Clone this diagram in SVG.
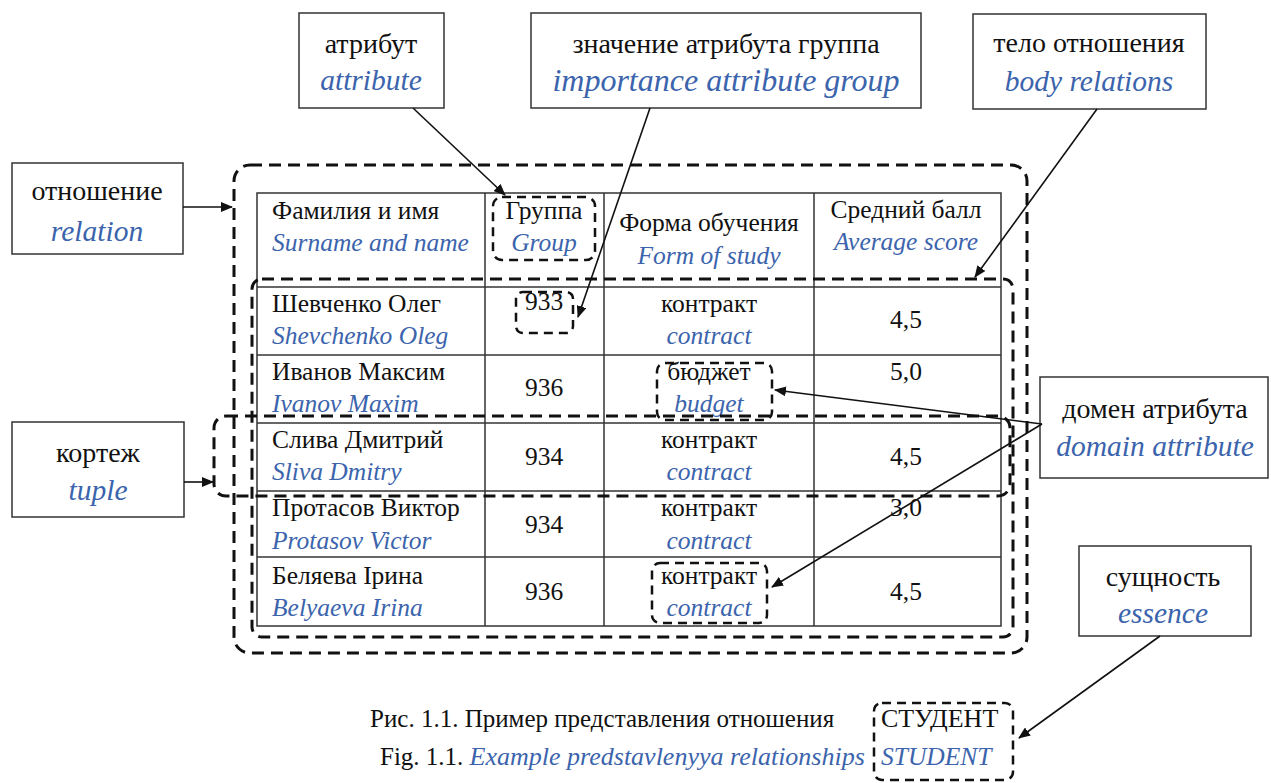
<svg xmlns="http://www.w3.org/2000/svg" width="1271" height="783" viewBox="0 0 1271 783">
<style>
.ru{font-family:"Liberation Serif","Times New Roman",serif;font-size:25.5px;fill:#111}
.en{font-family:"Liberation Serif","Times New Roman",serif;font-style:italic;font-size:25.5px;fill:#3B64AD}
.cru{font-family:"Liberation Serif","Times New Roman",serif;font-size:28px;fill:#111;text-anchor:middle}
.cen{font-family:"Liberation Serif","Times New Roman",serif;font-style:italic;font-size:29.5px;fill:#3B64AD;text-anchor:middle}
.cap{font-family:"Liberation Serif","Times New Roman",serif;font-size:25px;fill:#111}
.c{text-anchor:middle}
.box{fill:#fff;stroke:#333;stroke-width:1.5}
.tbl{fill:none;stroke:#333;stroke-width:1.5}
.dash{fill:none;stroke:#111;stroke-width:3;stroke-dasharray:12 7}
.sdash{fill:none;stroke:#111;stroke-width:2.5;stroke-dasharray:9 6}
.arr{stroke:#111;stroke-width:1.6;fill:none;marker-end:url(#ah)}
</style>
<defs>
<marker id="ah" viewBox="0 0 12 10" refX="11" refY="5" markerWidth="12" markerHeight="10" markerUnits="userSpaceOnUse" orient="auto">
<path d="M0,0 L12,5 L0,10 z" fill="#111"/>
</marker>
</defs>
<rect width="1271" height="783" fill="#fff"/>

<g id="table">
<rect class="tbl" x="257" y="193" width="744" height="433"/>
<line class="tbl" x1="485" y1="193" x2="485" y2="626"/>
<line class="tbl" x1="604" y1="193" x2="604" y2="626"/>
<line class="tbl" x1="814" y1="193" x2="814" y2="626"/>
<line class="tbl" x1="257" y1="287" x2="1001" y2="287"/>
<line class="tbl" x1="257" y1="355" x2="1001" y2="355"/>
<line class="tbl" x1="257" y1="423" x2="1001" y2="423"/>
<line class="tbl" x1="257" y1="491" x2="1001" y2="491"/>
<line class="tbl" x1="257" y1="557" x2="1001" y2="557"/>
<text class="ru" x="272" y="219">Фамилия и имя</text>
<text class="en" x="272" y="251">Surname and name</text>
<text class="ru c" x="544" y="219">Группа</text>
<text class="en c" x="544" y="251">Group</text>
<text class="ru c" x="709" y="231">Форма обучения</text>
<text class="en c" x="709" y="264">Form of study</text>
<text class="ru c" x="906" y="218">Средний балл</text>
<text class="en c" x="906" y="250">Average score</text>

<text class="ru" x="272" y="312">Шевченко Олег</text>
<text class="en" x="272" y="344">Shevchenko Oleg</text>
<text class="ru c" x="544" y="310">933</text>
<text class="ru c" x="709" y="312">контракт</text>
<text class="en c" x="709" y="344">contract</text>
<text class="ru c" x="906" y="328">4,5</text>

<text class="ru" x="272" y="380">Иванов Максим</text>
<text class="en" x="272" y="412">Ivanov Maxim</text>
<text class="ru c" x="544" y="396">936</text>
<text class="ru c" x="709" y="380">бюджет</text>
<text class="en c" x="709" y="412">budget</text>
<text class="ru c" x="906" y="380">5,0</text>

<text class="ru" x="272" y="448">Слива Дмитрий</text>
<text class="en" x="272" y="480">Sliva Dmitry</text>
<text class="ru c" x="544" y="465">934</text>
<text class="ru c" x="709" y="448">контракт</text>
<text class="en c" x="709" y="480">contract</text>
<text class="ru c" x="906" y="465">4,5</text>

<text class="ru" x="272" y="516">Протасов Виктор</text>
<text class="en" x="272" y="549">Protasov Victor</text>
<text class="ru c" x="544" y="533">934</text>
<text class="ru c" x="709" y="516">контракт</text>
<text class="en c" x="709" y="549">contract</text>
<text class="ru c" x="906" y="516">3,0</text>

<text class="ru" x="272" y="584">Беляева Ірина</text>
<text class="en" x="272" y="616">Belyaeva Irina</text>
<text class="ru c" x="544" y="600">936</text>
<text class="ru c" x="709" y="584">контракт</text>
<text class="en c" x="709" y="616">contract</text>
<text class="ru c" x="906" y="600">4,5</text>
</g>

<g id="regions">
<rect class="dash" x="234" y="165" width="793" height="488" rx="16"/>
<rect class="dash" x="252" y="279" width="761" height="358" rx="10"/>
<rect class="dash" x="214" y="416" width="796" height="80" rx="12"/>
<rect class="sdash" x="493" y="197" width="102" height="63" rx="9"/>
<rect class="sdash" x="516" y="292" width="57" height="41" rx="7"/>
<rect class="sdash" x="657" y="363" width="115" height="57" rx="8"/>
<rect class="sdash" x="652" y="563" width="115" height="60" rx="8"/>
<rect class="sdash" x="874" y="703" width="139" height="77" rx="8"/>
</g>

<g id="n-attribute">
<rect class="box" x="299" y="13" width="145" height="95"/>
<text class="cru" x="371" y="53">атрибут</text>
<text class="cen" x="371" y="90">attribute</text>
</g>
<g id="n-value">
<rect class="box" x="531" y="13" width="390" height="95"/>
<text class="cru" x="726" y="53">значение атрибута группа</text>
<text class="cen" x="726" y="91" style="font-size:32px">importance attribute group</text>
</g>
<g id="n-body">
<rect class="box" x="973" y="14" width="233" height="95"/>
<text class="cru" x="1089" y="52">тело отношения</text>
<text class="cen" x="1089" y="91">body relations</text>
</g>
<g id="n-relation">
<rect class="box" x="12" y="163" width="171" height="91"/>
<text class="cru" x="97" y="200">отношение</text>
<text class="cen" x="97" y="241">relation</text>
</g>
<g id="n-tuple">
<rect class="box" x="12" y="422" width="172" height="95"/>
<text class="cru" x="98" y="462">кортеж</text>
<text class="cen" x="98" y="500">tuple</text>
</g>
<g id="n-domain">
<rect class="box" x="1040" y="377" width="228" height="101"/>
<text class="cru" x="1155" y="418">домен атрибута</text>
<text class="cen" x="1155" y="456">domain attribute</text>
</g>
<g id="n-essence">
<rect class="box" x="1079" y="546" width="172" height="90"/>
<text class="cru" x="1163" y="586">сущность</text>
<text class="cen" x="1163" y="623">essence</text>
</g>

<g id="caption">
<text class="cap" x="370" y="727">Рис. 1.1. Пример представления отношения</text>
<text class="cap" x="380" y="765">Fig. 1.1. <tspan style="font-style:italic;fill:#3B64AD;font-size:26px">Example predstavlenyya relationships</tspan></text>
<text class="cap" x="881" y="727" style="font-size:26px">СТУДЕНТ</text>
<text class="en" x="881" y="765">STUDENT</text>
</g>

<g id="connectors">
<line class="arr" x1="413" y1="108" x2="505" y2="195"/>
<line class="arr" x1="650" y1="108" x2="578" y2="317"/>
<line class="arr" x1="1097" y1="109" x2="975" y2="277"/>
<line class="arr" x1="183" y1="207" x2="232" y2="207"/>
<line class="arr" x1="184" y1="482" x2="213" y2="482"/>
<line class="arr" x1="1042" y1="424" x2="775" y2="390"/>
<line class="arr" x1="1042" y1="424" x2="772" y2="587"/>
<line class="arr" x1="1160" y1="636" x2="1019" y2="738"/>
</g>
</svg>
